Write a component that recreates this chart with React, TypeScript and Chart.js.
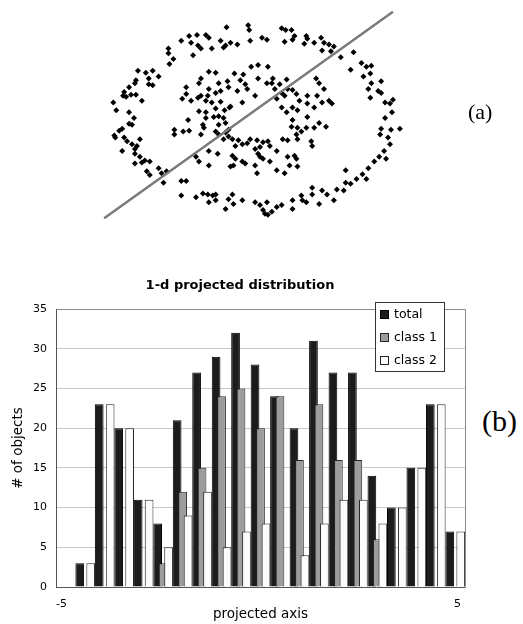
import React, { useEffect, useRef } from 'react';
import { Chart, registerables } from 'chart.js';

Chart.register(...registerables);

// ---------- (a) scatter: points (picture units, y down) ----------
const scatterPoints: [number, number][] = [
  [167,46],[167,51],[172,57],[168,62],[136,69],[144,71],[151,69],[157,75],[147,77],[147,83],[151,84],[134,79],[133,82],[127,86],[122,91],[121,95],[124,96],[129,94],[134,94],[140,100],[111,102],[114,110],[127,112],
  [226,24],[248,22],[249,27],[188,33],[196,32],[205,32],[208,35],[180,38],[190,40],[197,43],[200,46],[211,46],[192,53],[220,38],[225,43],[230,40],[237,42],[223,45],[250,38],[262,35],[258,63],[251,65],[208,70],[215,71],[234,72],[243,73],[200,77],[198,82],[218,82],[227,80],[240,79],[245,83],[258,77],[185,86],[208,88],[220,90],[228,86],[247,88],[185,93],[200,95],[207,95],[215,92],[237,90],[181,98],[190,100],[197,97],[205,100],[211,102],[220,101],[242,102],[255,95],[230,106],[215,108],[224,110],[229,107],[198,111],[205,112],
  [282,25],[286,27],[292,27],[295,33],[293,37],[285,39],[307,33],[308,36],[305,41],[315,40],[322,35],[325,40],[330,42],[335,44],[323,48],[332,49],[342,55],[352,68],[267,37],[268,65],[273,77],[267,82],[272,82],[280,83],[287,78],[275,88],[282,92],[288,88],[293,89],[277,98],[285,95],[297,93],[300,100],[308,95],[317,77],[320,82],[325,88],[318,95],[323,102],[330,100],[333,103],[282,107],[287,112],[293,107],[298,110],[308,103],[315,107],
  [132,118],[127,124],[130,125],[120,129],[117,131],[112,136],[113,138],[122,138],[125,142],[138,140],[130,145],[135,147],[133,150],[120,152],[133,155],[138,158],[143,162],[148,163],[133,165],[140,164],[145,173],[148,177],[157,170],[165,173],[160,175],[162,185],[173,130],[173,135],
  [187,120],[205,118],[213,117],[218,116],[223,118],[202,125],[203,128],[218,125],[225,123],[228,130],[182,132],[188,131],[200,135],[215,132],[218,135],[225,133],[228,137],[223,140],[232,140],[238,141],[242,145],[235,147],[247,144],[250,140],[257,141],[260,148],[263,143],[255,150],[258,155],[260,158],[263,160],[255,167],[257,175],[195,158],[198,163],[208,152],[217,155],[208,167],[232,157],[235,160],[230,168],[233,167],[242,163],[245,165],[180,183],[185,183],[180,198],[195,200],[202,196],[207,197],[212,198],[215,197],[208,205],[215,203],[232,197],[228,202],[233,207],[242,203],[225,212],[255,205],[260,208],[263,213],
  [293,120],[308,117],[320,123],[327,127],[292,127],[298,128],[302,132],[307,128],[315,128],[297,135],[283,140],[288,141],[298,140],[312,142],[313,147],[268,142],[270,147],[277,152],[288,158],[295,157],[297,160],[290,167],[298,168],[270,163],[277,172],[285,175],[347,172],[347,185],[345,193],[338,192],[313,190],[323,193],[328,197],[313,197],[320,207],[335,203],[302,198],[303,203],[307,205],[293,203],[293,212],[282,208],[277,210],[272,215],[267,205],[265,217],[268,218],
  [355,50],[363,61],[368,65],[373,64],[372,72],[365,75],[373,82],[383,80],[370,88],[380,90],[383,92],[372,97],[387,102],[392,103],[395,99],[394,112],[387,118],[383,129],[393,130],[402,129],[382,135],[390,138],
  [392,145],[386,152],[381,158],[376,163],[370,170],[364,176],[358,181],[352,186],[388,160],[368,181],
];
const projectionLine: [number, number][] = [[101.7, 221.7], [395, 8]];

// ---------- (b) histogram ----------
const binLabels = ['-5','-4.5','-4','-3.5','-3','-2.5','-2','-1.5','-1','-0.5','0','0.5','1','1.5','2','2.5','3','3.5','4','4.5','5'];
const totalCounts  = [0, 3, 23, 20, 11, 8, 21, 27, 29, 32, 28, 24, 20, 31, 27, 27, 14, 10, 15, 23, 7];
const class1Counts = [0, 0, 0, 0, 0, 3, 12, 15, 24, 25, 20, 24, 16, 23, 16, 16, 6, 0, 0, 0, 0];
const class2Counts = [0, 3, 23, 20, 11, 5, 9, 12, 5, 7, 8, 0, 4, 8, 11, 11, 8, 10, 15, 23, 7];
const seriesNames = ['total', 'class 1', 'class 2'];
const xTickValues = [-5, 5];
const xAxisMin = -5.139, xAxisMax = 5.189;
const yMin = 0, yMax = 35, yStep = 5;

const FONT = 'DejaVu Sans';
const fills = ['#1c1c1c', '#9c9c9c', '#fcfcfc'];
const borders = ['#000000', '#262626', '#262626'];

// draw datasets in index order so later series overlap earlier ones
const drawOrderPlugin = {
  id: 'drawOrder',
  beforeDatasetsDraw(chart: any) {
    const metas = chart.getSortedVisibleDatasetMetas();
    for (const meta of metas) meta.controller.draw();
    return false;
  },
};

const frameLegendPlugin = {
  id: 'frameLegend',
  afterDraw(chart: any) {
    const { ctx, chartArea: a } = chart;
    ctx.save();
    ctx.lineWidth = 1;
    ctx.strokeStyle = '#8a8a8a';
    ctx.beginPath();
    ctx.moveTo(a.left, a.top + 0.5);
    ctx.lineTo(a.right + 0.5, a.top + 0.5);
    ctx.lineTo(a.right + 0.5, a.bottom);
    ctx.stroke();
    ctx.strokeStyle = '#555';
    ctx.beginPath();
    ctx.moveTo(a.left + 0.5, a.top);
    ctx.lineTo(a.left + 0.5, a.bottom + 0.5);
    ctx.lineTo(a.right + 0.5, a.bottom + 0.5);
    ctx.stroke();

    // legend box
    const lx = a.right - 90;
    const ly = a.top - 7.3;
    const lw = 69.3, lh = 69.3;
    ctx.fillStyle = '#fff';
    ctx.fillRect(lx, ly, lw, lh);
    ctx.strokeStyle = '#333';
    ctx.strokeRect(Math.round(lx) + 0.5, Math.round(ly) + 0.5, Math.round(lw), Math.round(lh));
    ctx.font = `12.5px "${FONT}"`;
    ctx.textBaseline = 'middle';
    ctx.textAlign = 'left';
    chart.data.datasets.forEach((ds: any, i: number) => {
      const cy = ly + 12.8 + i * 22.8;
      const sx = Math.round(lx + 4.5);
      const sy = Math.round(cy - 4.5);
      ctx.fillStyle = ds.backgroundColor;
      ctx.fillRect(sx, sy, 9, 9);
      ctx.strokeStyle = ds.borderColor;
      ctx.strokeRect(sx + 0.5, sy + 0.5, 8, 8);
      ctx.fillStyle = '#000';
      ctx.fillText(seriesNames[i], lx + 19, cy + 0.5);
    });
    ctx.restore();
  },
};

export default function App() {
  const scatterRef = useRef<HTMLCanvasElement>(null);
  const barRef = useRef<HTMLCanvasElement>(null);

  useEffect(() => {
    document.body.style.margin = '0';
    const scatter = new Chart(scatterRef.current as HTMLCanvasElement, {
      type: 'scatter',
      data: {
        datasets: [
          {
            type: 'line',
            data: projectionLine.map(([x, y]) => ({ x, y })),
            borderColor: '#7a7a7a',
            borderWidth: 2.5,
            pointRadius: 0,
            showLine: true,
            fill: false,
          } as any,
          {
            data: scatterPoints.map(([x, y]) => ({ x, y })),
            pointStyle: 'rectRot',
            pointRadius: 3,
            backgroundColor: '#000',
            borderWidth: 0,
          },
        ],
      },
      options: {
        responsive: false,
        animation: false,
        layout: { padding: 0 },
        plugins: { legend: { display: false }, tooltip: { enabled: false } },
        scales: {
          x: { type: 'linear', display: false, min: 0, max: 523 },
          y: { type: 'linear', display: false, min: 0, max: 240, reverse: true },
        },
      },
    });

    const counts = [totalCounts, class1Counts, class2Counts];
    const bar = new Chart(barRef.current as HTMLCanvasElement, {
      type: 'bar',
      data: {
        labels: binLabels,
        datasets: counts.map((d, i) => ({
          label: seriesNames[i],
          data: d,
          backgroundColor: fills[i],
          borderColor: borders[i],
          borderWidth: 1,
          xAxisID: 'x',
          yAxisID: 'y',
          categoryPercentage: 0.843,
          barPercentage: 1.59,
        })),
      },
      options: {
        responsive: false,
        animation: false,
        layout: { padding: 0 },
        plugins: {
          legend: { display: false },
          tooltip: { enabled: false },
          title: {
            display: true,
            text: '1-d projected distribution',
            color: '#000',
            font: { family: FONT, size: 13, weight: 'bold' },
            padding: { top: 18.2, bottom: 15.2 },
          },
        },
        scales: {
          x: { type: 'category', display: false, offset: true, grid: { display: false } },
          x2: {
            type: 'linear',
            axis: 'x',
            position: 'bottom',
            offset: false,
            min: xAxisMin,
            max: xAxisMax,
            bounds: 'data',
            afterBuildTicks: (s: any) => {
              s.ticks = xTickValues.map((v) => ({ value: v }));
            },
            ticks: {
              autoSkip: false,
              maxRotation: 0,
              color: '#000',
              font: { family: FONT, size: 11 },
              padding: 10.4,
              callback: (v: any) => String(v),
            },
            grid: { display: false, drawTicks: false, offset: false },
            border: { display: false },
            title: {
              display: true,
              text: 'projected axis',
              color: '#000',
              font: { family: FONT, size: 13.5 },
              padding: { top: 0, bottom: 1.9 },
            },
            afterFit: (s: any) => { s.height = 37; },
          },
          y: {
            min: yMin,
            max: yMax,
            ticks: { stepSize: yStep, color: '#000', font: { family: FONT, size: 11 }, padding: 9 },
            grid: { color: '#c8c8c8', drawTicks: false },
            border: { display: true, color: '#555' },
            title: {
              display: true,
              text: '# of objects',
              color: '#000',
              font: { family: FONT, size: 13.5 },
              padding: { top: 10.4, bottom: 0 },
            },
            afterFit: (s: any) => { s.width = 56; },
          },
          yR: {
            type: 'linear',
            axis: 'y',
            position: 'right',
            display: true,
            ticks: { display: false },
            grid: { display: false, drawTicks: false },
            border: { display: false },
            afterFit: (s: any) => { s.width = 15; },
          },
        },
      } as any,
      plugins: [drawOrderPlugin, frameLegendPlugin],
    });

    return () => {
      scatter.destroy();
      bar.destroy();
    };
  }, []);

  const serif = '"Liberation Serif", "Times New Roman", serif';
  return (
    <div style={{ position: 'relative', width: 523, height: 624, background: '#fff', overflow: 'hidden' }}>
      <canvas ref={scatterRef} width={523} height={240} style={{ position: 'absolute', left: 0, top: 0 }} />
      <canvas ref={barRef} width={480} height={364} style={{ position: 'absolute', left: 0, top: 260 }} />
      <span style={{ position: 'absolute', left: 468, top: 101, fontFamily: serif, fontSize: 22, lineHeight: '22px', color: '#000', whiteSpace: 'nowrap' }}>(a)</span>
      <span style={{ position: 'absolute', left: 482, top: 406, fontFamily: serif, fontSize: 30, lineHeight: '30px', color: '#000', whiteSpace: 'nowrap' }}>(b)</span>
    </div>
  );
}
